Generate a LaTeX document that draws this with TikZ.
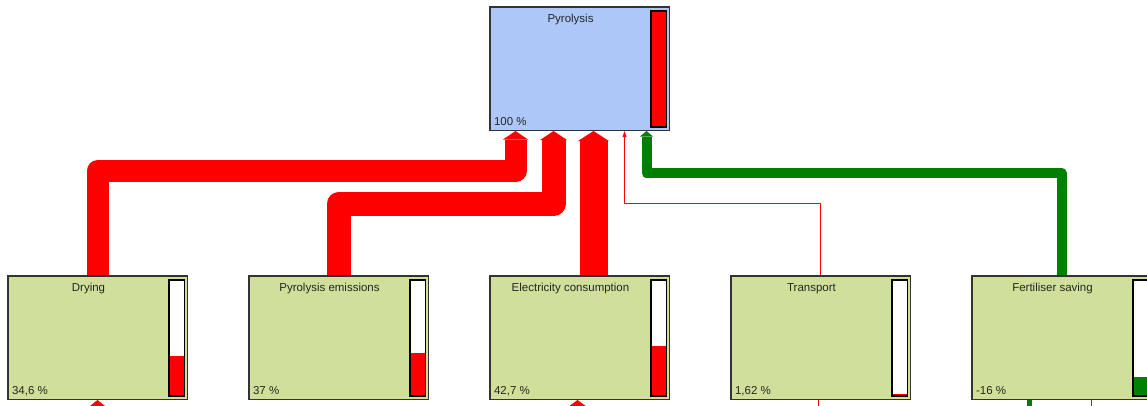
\documentclass[tikz,border=0pt]{standalone}
\usepackage{fontspec}
\setmainfont{Liberation Sans}
\usetikzlibrary{arrows.meta, positioning}

\definecolor{topblue}{RGB}{173,200,248}
\definecolor{procgreen}{RGB}{208,224,154}
\definecolor{flowred}{RGB}{255,0,0}
\definecolor{flowgreen}{RGB}{0,128,0}

% share bar at the right of a box: #1 box, #2 share (0..1), #3 colour
\newcommand{\levelbar}[3]{%
    \node (#1 bar) [bar, anchor=north east] at ([xshift=-3.75pt, yshift=-4.75pt]#1.north east) {};
    \fill[#3] (#1 bar.south west) rectangle ([yshift=#2*116pt]#1 bar.south east);
    \draw[line width=1.5pt] (#1 bar.south west) rectangle (#1 bar.north east);
}

\begin{document}
\begin{tikzpicture}[x=1pt, y=-1pt,
        process/.style = {draw=black!80, line width=1.5pt, fill=procgreen, minimum width=179.5pt, minimum height=123.5pt, inner sep=0pt},
        bar/.style = {fill=white, minimum width=15.5pt, minimum height=116pt, inner sep=0pt, outer sep=0pt},
        title/.style = {text=black!85, font=\fontsize{11.5}{13}\selectfont},
        value/.style = {anchor=base west, text=black!85, font=\fontsize{11.5}{13}\selectfont},
        red flow/.style = {draw=flowred, line join=round},
        green flow/.style = {draw=flowgreen, line join=round},
        flow tip/.style 2 args = {-{Triangle[length=#1, width=#2, line width=0pt]}}
    ]
    \useasboundingbox (0,0) rectangle (1147,405);
    \clip (0,0) rectangle (1147,405);

    % Nodes
    \node (dry) [process, anchor=north west] at (7,275) {};
    \node (emis) [process, right=60pt of dry] {};
    \node (elec) [process, right=60pt of emis] {};
    \node (trans) [process, right=60pt of elec] {};
    \node (fert) [process, right=60pt of trans] {};
    \node (pyro) [process, fill=topblue, above=144pt of elec] {};

    % Titles and shares
    \node[title] at ([xshift=-9pt, yshift=-14pt]pyro.north) {Pyrolysis};
    \node[title] at ([xshift=-9pt, yshift=-14pt]dry.north) {Drying};
    \node[title] at ([xshift=-9pt, yshift=-14pt]emis.north) {Pyrolysis emissions};
    \node[title] at ([xshift=-9pt, yshift=-14pt]elec.north) {Electricity consumption};
    \node[title] at ([xshift=-9pt, yshift=-14pt]trans.north) {Transport};
    \node[title] at ([xshift=-9pt, yshift=-14pt]fert.north) {Fertiliser saving};

    \node[value] at ([xshift=1.5pt, yshift=6pt]pyro.south west) {100 \%};
    \node[value] at ([xshift=1.5pt, yshift=6pt]dry.south west) {34,6 \%};
    \node[value] at ([xshift=1.5pt, yshift=6pt]emis.south west) {37 \%};
    \node[value] at ([xshift=1.5pt, yshift=6pt]elec.south west) {42,7 \%};
    \node[value] at ([xshift=1.5pt, yshift=6pt]trans.south west) {1,62 \%};
    \node[value] at ([xshift=1.5pt, yshift=6pt]fert.south west) {-16 \%};

    \levelbar{pyro}{1}{flowred}
    \levelbar{dry}{0.346}{flowred}
    \levelbar{emis}{0.37}{flowred}
    \levelbar{elec}{0.427}{flowred}
    \levelbar{trans}{0.0162}{flowred}
    \levelbar{fert}{0.16}{flowgreen}

    % Entry points on Pyrolysis
    \coordinate (in dry) at ([xshift=-64pt]pyro.south);
    \coordinate (in emis) at ([xshift=-26pt]pyro.south);
    \coordinate (in elec) at ([xshift=14pt]pyro.south);
    \coordinate (in trans) at ([xshift=45pt]pyro.south);
    \coordinate (in fert) at ([xshift=67pt]pyro.south);

    % Arrows
    \draw[red flow, line width=22pt, flow tip={8.5pt}{25pt}] (dry.north) |- ([yshift=-40pt]in dry) -- (in dry);
    \draw[red flow, line width=24pt, flow tip={9pt}{27pt}] (emis.north) |- ([yshift=-73pt]in emis) -- (in emis);
    \draw[red flow, line width=28pt, flow tip={10pt}{31pt}] (in elec |- elec.north) -- (in elec);
    \draw[red flow, line width=1pt, flow tip={6pt}{4pt}] (trans.north) |- ([yshift=-72pt]in trans) -- (in trans);
    \draw[green flow, line width=10pt, flow tip={5.5pt}{13pt}] (fert.north) |- ([yshift=-42pt]in fert) -- (in fert);

    % Arrows from below the bottom row
    \draw[red flow, line width=12pt, flow tip={6pt}{15pt}] ([yshift=-20pt]dry.south) -- (dry.south);
    \draw[red flow, line width=16pt, flow tip={7pt}{19pt}] ([xshift=-2pt, yshift=-20pt]elec.south) -- ([xshift=-2pt]elec.south);
    \draw[red flow, line width=1pt] ([xshift=-2pt, yshift=-20pt]trans.south) -- ([xshift=-2pt]trans.south);
    \draw[green flow, line width=5pt] ([xshift=-32pt, yshift=-20pt]fert.south) -- ([xshift=-32pt]fert.south);
    \draw[green flow, line width=1pt] ([xshift=30pt, yshift=-20pt]fert.south) -- ([xshift=30pt]fert.south);

\end{tikzpicture}
\end{document}
